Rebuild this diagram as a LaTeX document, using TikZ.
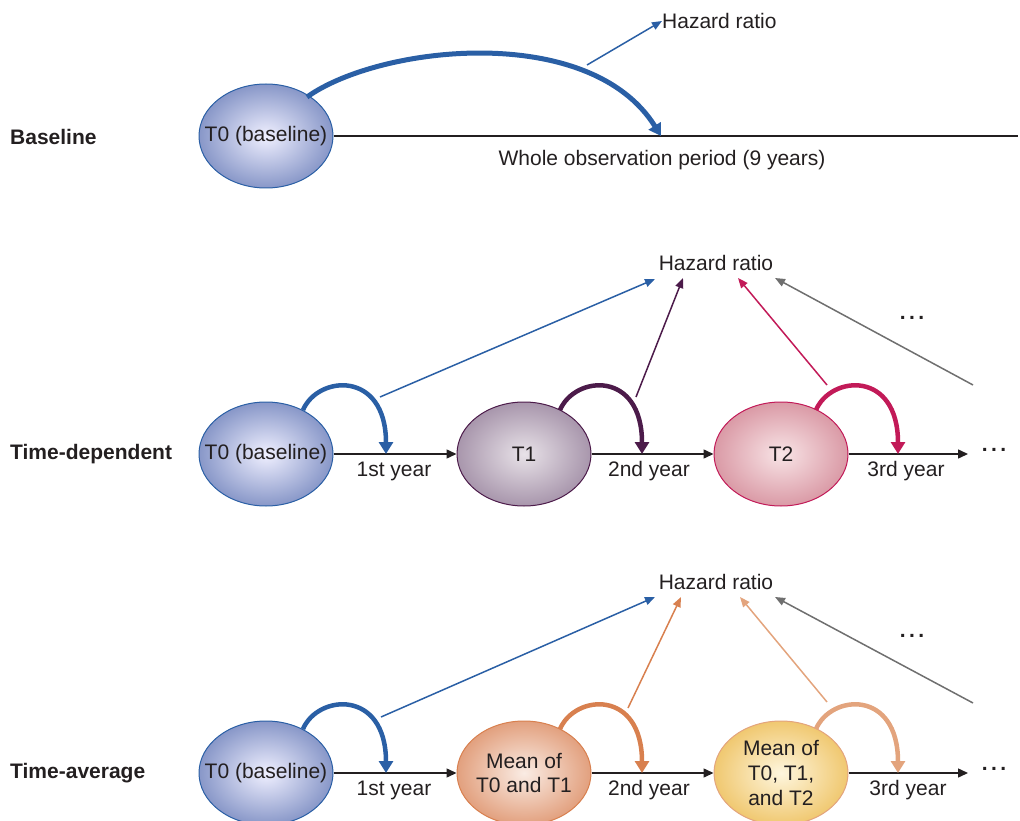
\documentclass[tikz,border=0pt]{standalone}
\usepackage{fontspec}
\setmainfont{Liberation Sans}
\usetikzlibrary{arrows.meta,shapes.geometric}
\definecolor{cblue}{HTML}{2A5FA5}
\definecolor{cpurple}{HTML}{4C1B4A}
\definecolor{ccrim}{HTML}{C21A58}
\definecolor{corange}{HTML}{D8804F}
\definecolor{clorange}{HTML}{E3A47D}
\definecolor{cgray}{HTML}{6F6F6F}
\definecolor{ctext}{HTML}{231F20}
\tikzset{
  ell/.style={ellipse, draw, line width=1pt, minimum width=134pt, minimum height=104pt, inner sep=0pt},
  ellblue/.style={ell, draw=cblue, inner color=blue!6!white, outer color={rgb,255:red,136;green,151;blue,200}},
  ellpurple/.style={ell, draw=cpurple, inner color={rgb,255:red,232;green,226;blue,232}, outer color={rgb,255:red,168;green,150;blue,172}},
  ellpink/.style={ell, draw=ccrim, inner color={rgb,255:red,248;green,228;blue,230}, outer color={rgb,255:red,218;green,154;blue,166}},
  ellorange/.style={ell, draw=corange, inner color={rgb,255:red,250;green,236;blue,228}, outer color={rgb,255:red,226;green,160;blue,126}},
  ellyellow/.style={ell, draw=clorange, inner color={rgb,255:red,254;green,246;blue,222}, outer color={rgb,255:red,240;green,200;blue,112}},
  txt/.style={font=\fontsize{21}{24}\selectfont, text=ctext, inner sep=0pt, align=center},
  rowlabel/.style={font=\fontsize{21}{24}\selectfont\bfseries, text=ctext, anchor=west, inner sep=0pt},
  flow/.style={line width=1.5pt, draw=ctext, -{Triangle[length=10pt,width=9pt]}},
  arc/.style={line width=4.5pt, -{Triangle[length=12pt,width=14pt]}},
  hr/.style={line width=1.5pt, -{Triangle[length=10pt,width=8pt]}},
  dots/.style={font=\fontsize{21}{24}\selectfont\bfseries, text=ctext, inner sep=0pt}
}
\begin{document}
\begin{tikzpicture}[x=1pt,y=-1pt]
\useasboundingbox (0,0) rectangle (1020,821);
\clip (0,0) rectangle (1020,821);
% ---------- Baseline row ----------
\node[rowlabel] (lb) at (10,137) {Baseline};
\node[ellblue, label={[txt]center:T0 (baseline)}] (a0) at (266,136) {};
\coordinate (aend) at (1018,136);
\draw[line width=1.5pt, ctext] (a0.east) -- (aend);
\node[txt] (awhole) at (662,160) {Whole observation period (9 years)};
\coordinate (aarcs) at (307,97);
\coordinate (atip) at (661,136);
\draw[arc, line width=5pt, cblue] (aarcs) .. controls (380,45) and (590,22) .. (atip);
\node[txt, anchor=west] (ahr) at (662,21) {Hazard ratio};
\coordinate (ahrs) at (587,65);
\draw[hr, cblue] (ahrs) -- (ahr.west);
% ---------- Time-dependent row ----------
\node[rowlabel] (ld) at (10,454) {Time-dependent};
\node[ellblue, label={[txt]center:T0 (baseline)}] (d0) at (266,454) {};
\node[ellpurple, label={[txt]center:T1}] (d1) at (524,454) {};
\node[ellpink, label={[txt]center:T2}] (d2) at (781,454) {};
\coordinate (dend) at (968,454);
\node[dots] (ddots) at (994,450) {.\,.\,.};
\draw[flow] (d0.east) -- (d1.west);
\draw[flow] (d1.east) -- (d2.west);
\draw[flow] (d2.east) -- (dend);
\node[txt] (dy1) at (394,471) {1st year};
\node[txt] (dy2) at (649,471) {2nd year};
\node[txt] (dy3) at (906,471) {3rd year};
\node[txt] (dhr) at (716,263) {Hazard ratio};
\coordinate (dt0) at (386,454);
\coordinate (dt1) at (642,454);
\coordinate (dt2) at (898,454);
\draw[arc, cblue] (303,410) .. controls (318,375) and (386,370) .. (dt0);
\draw[arc, cpurple] (560,410) .. controls (575,375) and (642,370) .. (dt1);
\draw[arc, ccrim] (816,410) .. controls (831,375) and (898,370) .. (dt2);
\coordinate (dh0s) at (380,397); \coordinate (dh0e) at (655,279);
\coordinate (dh1s) at (636,397); \coordinate (dh1e) at (683,278);
\coordinate (dh2s) at (827,385); \coordinate (dh2e) at (738,278);
\coordinate (dh3s) at (973,385); \coordinate (dh3e) at (775,278);
\draw[hr, cblue] (dh0s) -- (dh0e);
\draw[hr, cpurple] (dh1s) -- (dh1e);
\draw[hr, ccrim] (dh2s) -- (dh2e);
\draw[hr, cgray] (dh3s) -- (dh3e);
\node[dots] (dmid) at (912,318) {.\,.\,.};
% ---------- Time-average row ----------
\node[rowlabel] (la) at (10,773) {Time-average};
\node[ellblue, label={[txt]center:T0 (baseline)}] (m0) at (266,773) {};
\node[ellorange, label={[txt]center:Mean of\\T0 and T1}] (m1) at (524,773) {};
\node[ellyellow, label={[txt, font=\fontsize{21}{25}\selectfont]center:Mean of\\T0, T1,\\and T2}] (m2) at (781,773) {};
\coordinate (mend) at (968,773);
\node[dots] (mdots) at (994,769) {.\,.\,.};
\draw[flow] (m0.east) -- (m1.west);
\draw[flow] (m1.east) -- (m2.west);
\draw[flow] (m2.east) -- (mend);
\node[txt] (my1) at (394,790) {1st year};
\node[txt] (my2) at (649,790) {2nd year};
\node[txt] (my3) at (908,790) {3rd year};
\node[txt] (mhr) at (716,582) {Hazard ratio};
\coordinate (mt0) at (386,773);
\coordinate (mt1) at (642,773);
\coordinate (mt2) at (898,773);
\draw[arc, cblue] (303,729) .. controls (318,694) and (386,689) .. (mt0);
\draw[arc, corange] (560,729) .. controls (575,694) and (642,689) .. (mt1);
\draw[arc, clorange] (816,729) .. controls (831,694) and (898,689) .. (mt2);
\coordinate (mh0s) at (381,717); \coordinate (mh0e) at (655,597);
\coordinate (mh1s) at (628,708); \coordinate (mh1e) at (681,597);
\coordinate (mh2s) at (827,702); \coordinate (mh2e) at (740,597);
\coordinate (mh3s) at (973,703); \coordinate (mh3e) at (775,597);
\draw[hr, cblue] (mh0s) -- (mh0e);
\draw[hr, corange] (mh1s) -- (mh1e);
\draw[hr, clorange] (mh2s) -- (mh2e);
\draw[hr, cgray] (mh3s) -- (mh3e);
\node[dots] (mmid) at (912,636) {.\,.\,.};
\end{tikzpicture}
\end{document}
